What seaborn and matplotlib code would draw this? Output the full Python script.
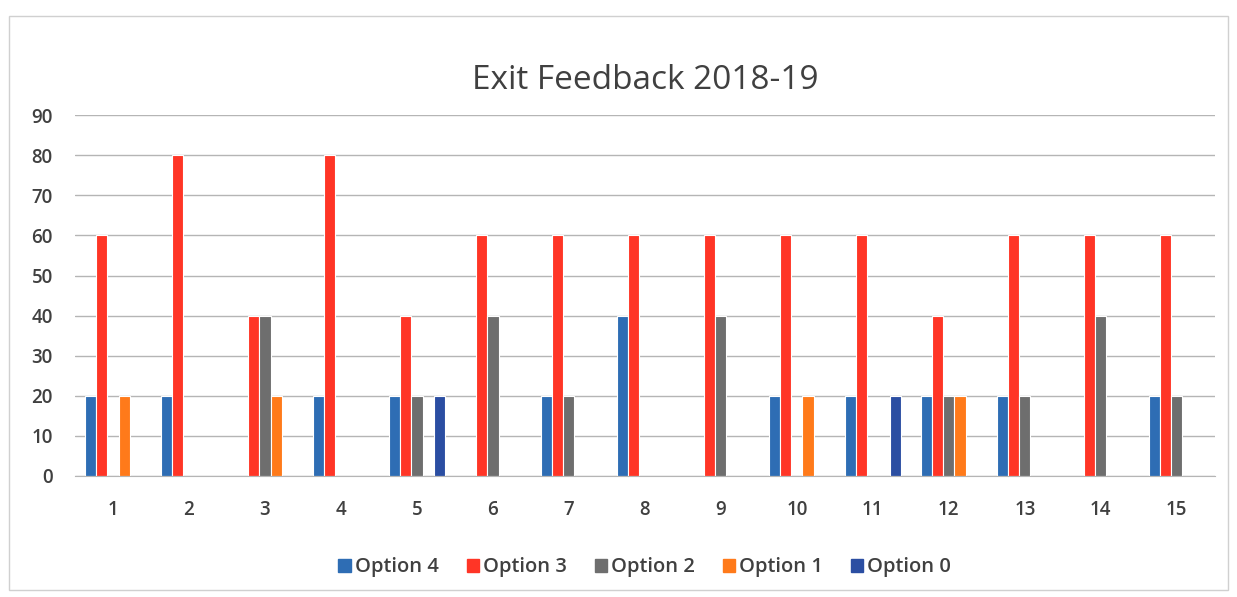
import matplotlib
matplotlib.use("Agg")
import matplotlib.pyplot as plt
import matplotlib.patches as mpatches
import pandas as pd
import seaborn as sns

# datos
groups = [str(i) for i in range(1, 16)]
options = ['Option 4', 'Option 3', 'Option 2', 'Option 1', 'Option 0']
option_4 = [20, 20, 0, 20, 20, 0, 20, 40, 0, 20, 20, 20, 20, 0, 20]
option_3 = [60, 80, 40, 80, 40, 60, 60, 60, 60, 60, 60, 40, 60, 60, 60]
option_2 = [0, 0, 40, 0, 20, 40, 20, 0, 40, 0, 0, 20, 20, 40, 20]
option_1 = [20, 0, 20, 0, 0, 0, 0, 0, 0, 20, 0, 20, 0, 0, 0]
option_0 = [0, 0, 0, 0, 20, 0, 0, 0, 0, 0, 20, 0, 0, 0, 0]

colores = ['#2E6DB4', '#FF3526', '#6E6E6E', '#FF7A1A', '#2B4EA2']

rows = []
for name, vals in zip(options, [option_4, option_3, option_2, option_1, option_0]):
    for g, v in zip(groups, vals):
        rows.append({'Group': g, 'Value': v, 'Option': name})
df = pd.DataFrame(rows)

sns.set_style('white')
plt.rcParams['font.family'] = ['Open Sans', 'DejaVu Sans']

fig = plt.figure(figsize=(12.37, 5.97), dpi=100)
ax = fig.add_axes([0.0606, 0.2027, 0.9214, 0.6043])

sns.barplot(data=df, x='Group', y='Value', hue='Option', hue_order=options,
            palette=colores, width=0.74, edgecolor='white', linewidth=0.8,
            saturation=1, ax=ax)

ax.set_ylim(0, 90)
ax.set_yticks(range(0, 100, 10))
ax.yaxis.grid(True, color='#b5b5b5', linewidth=1)
ax.set_axisbelow(True)
for s in ['left', 'right', 'top']:
    ax.spines[s].set_visible(False)
ax.spines['bottom'].set_color('#b5b5b5')
ax.set_xlim(-0.5, 14.5)
ax.set_xlabel('')
ax.set_ylabel('')
ax.tick_params(axis='both', length=0, labelsize=13.5, colors='#404040')
ax.tick_params(axis='x', pad=17)
ax.tick_params(axis='y', pad=16)
for lbl in ax.get_xticklabels() + ax.get_yticklabels():
    lbl.set_fontweight('semibold')

ax.set_title('Exit Feedback 2018-19', fontsize=24, color='#404040', pad=19)

handles = [mpatches.Patch(color=c, label=o) for c, o in zip(colores, options)]
leg = ax.legend(handles=handles, loc='upper center', bbox_to_anchor=(0.5, -0.175),
                ncol=5, frameon=False, prop={'size': 14.5, 'weight': 'semibold'},
                handlelength=0.6, handleheight=0.6, handletextpad=0.2,
                columnspacing=1.4, labelcolor='#404040')

# borde exterior del grafico
fig.patches.append(mpatches.Rectangle((0.007, 0.012), 0.986, 0.962, transform=fig.transFigure,
                                      fill=False, edgecolor='#d0d0d0', linewidth=1))

fig.savefig('out.png', dpi=100)
